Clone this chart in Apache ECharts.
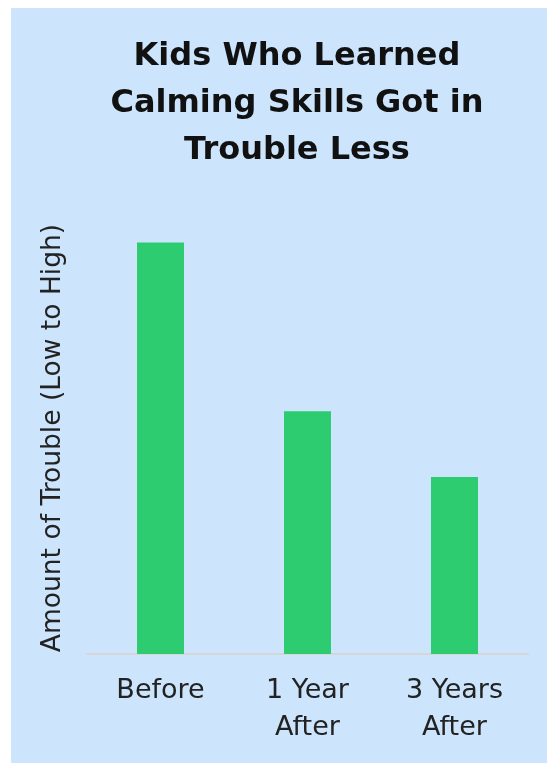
<!DOCTYPE html>
<html>
<head>
<meta charset="utf-8">
<style>
  html, body { margin: 0; padding: 0; background: #fff; }
  #chart { width: 547px; height: 763px; }
</style>
<script src="https://cdn.jsdelivr.net/npm/echarts@6/dist/echarts.min.js"></script>
</head>
<body>
<div id="chart"></div>
<script>
const categories = ['Before', '1 Year\nAfter', '3 Years\nAfter']
const troubleValues = [10, 5.9, 4.3]
const titleText = 'Kids Who Learned\nCalming Skills Got in\nTrouble Less'
const yAxisTitle = 'Amount of Trouble (Low to High)'

const chart = echarts.init(document.getElementById('chart'))

const option = {
  backgroundColor: 'transparent',
  graphic: [{
    type: 'rect',
    z: -10,
    shape: { x: 11, y: 8, width: 536, height: 755 },
    style: { fill: '#cce5fc' }
  }],
  title: {
    text: titleText,
    left: 292,
    top: 28,
    textAlign: 'center',
    textStyle: {
      fontFamily: 'DejaVu Sans',
      fontWeight: 'bold',
      fontSize: 32,
      lineHeight: 47,
      color: '#111'
    }
  },
  grid: {
    left: 87,
    right: 19,
    top: 222,
    bottom: 109
  },
  xAxis: {
    type: 'category',
    data: categories,
    axisLine: { lineStyle: { color: '#d6d6d6', width: 2 } },
    axisTick: { show: false },
    axisLabel: {
      color: '#222',
      fontFamily: 'DejaVu Sans',
      fontSize: 27,
      lineHeight: 37,
      margin: 18
    }
  },
  yAxis: {
    type: 'value',
    min: 0,
    max: 10.5,
    name: yAxisTitle,
    nameLocation: 'middle',
    nameRotate: 90,
    nameGap: 20,
    nameTextStyle: {
      color: '#222',
      fontFamily: 'DejaVu Sans',
      fontSize: 26.5
    },
    axisLine: { show: false },
    axisTick: { show: false },
    axisLabel: { show: false },
    splitLine: { show: false }
  },
  series: [{
    type: 'bar',
    data: troubleValues,
    barWidth: 47,
    itemStyle: { color: '#2ecc71' }
  }]
}

chart.setOption(option)
</script>
</body>
</html>
